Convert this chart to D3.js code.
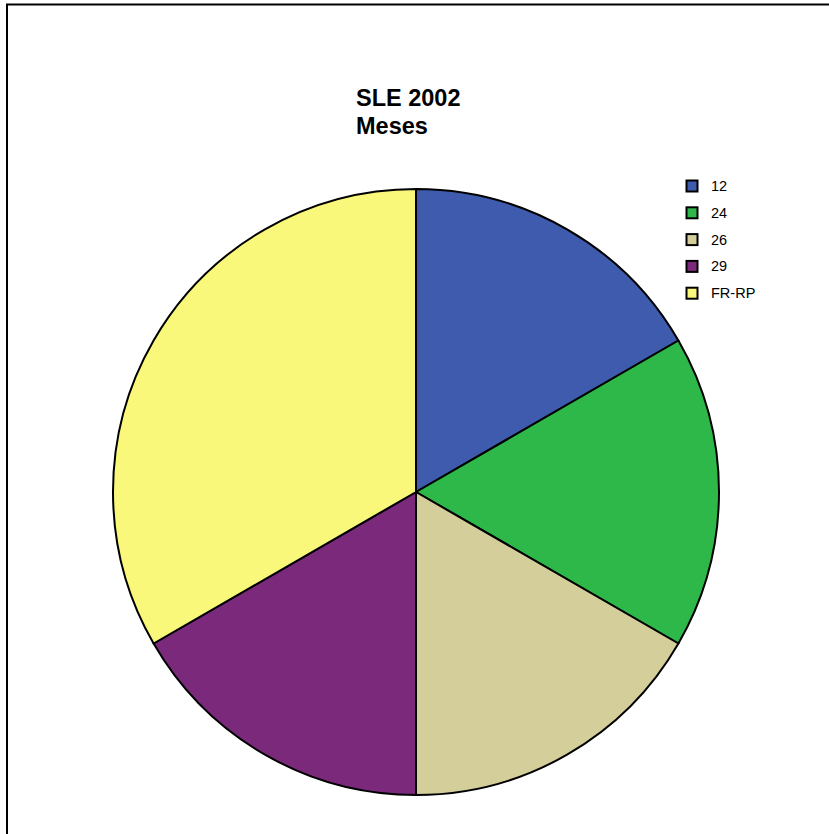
<!DOCTYPE html>
<html><head><meta charset="utf-8">
<script src="https://cdn.jsdelivr.net/npm/d3@7"></script>
<style>body{margin:0;background:#fff}svg{display:block}</style>
</head><body>
<script>
const categories = ["12", "24", "26", "29", "FR-RP"];
const values = [1, 1, 1, 1, 2];
const colors = ["#3f5bad", "#2fb84a", "#d4cf9a", "#7b2a7b", "#faf87a"];
const titleLines = ["SLE 2002", "Meses"];

const W = 829, H = 834;
const svg = d3.select("body").append("svg").attr("width", W).attr("height", H);
svg.append("rect").attr("x", 7).attr("y", 4.5).attr("width", W + 10).attr("height", H + 10)
  .attr("fill", "#fff").attr("stroke", "#000").attr("stroke-width", 2);

const cx = 416, cy = 492, r = 303;
const data = categories.map((c, i) => ({c, v: values[i], col: colors[i]}));
const pie = d3.pie().value(d => d.v).sort(null);
const arc = d3.arc().innerRadius(0).outerRadius(r);
svg.append("g").attr("transform", `translate(${cx},${cy})`)
  .selectAll("path").data(pie(data)).join("path")
  .attr("d", arc).attr("fill", d => d.data.col)
  .attr("stroke", "#000").attr("stroke-width", 2).attr("stroke-linejoin", "round");

const t = svg.append("text").attr("x", 356).attr("y", 106)
  .attr("font-family", "Liberation Sans, Arial, sans-serif").attr("font-weight", "bold").attr("font-size", 23.5);
titleLines.forEach((l, i) => t.append("tspan").attr("x", 356).attr("dy", i ? 28 : 0).text(l));

const lg = svg.append("g");
data.forEach((d, i) => {
  const y = 180 + i * 26.8;
  lg.append("rect").attr("x", 686.5).attr("y", y + 0.5).attr("width", 11).attr("height", 11)
    .attr("fill", d.col).attr("stroke", "#000").attr("stroke-width", 2);
  lg.append("text").attr("x", 711).attr("y", y + 11)
    .attr("font-family", "Liberation Sans, Arial, sans-serif").attr("font-size", 14.5).text(d.c);
});
</script>
</body></html>
